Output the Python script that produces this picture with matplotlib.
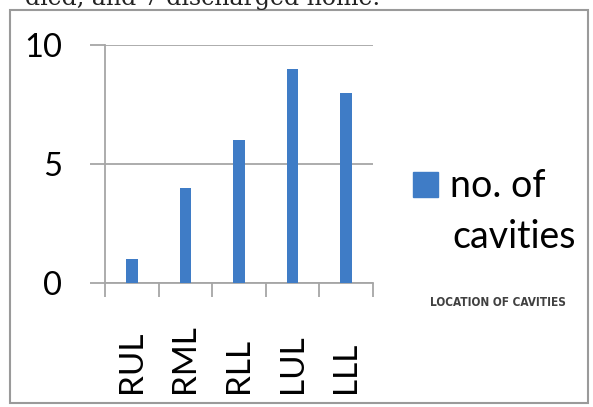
import matplotlib
matplotlib.use("Agg")
import matplotlib.pyplot as plt
from matplotlib.patches import Rectangle

# data
locations = ["RUL", "RML", "RLL", "LUL", "LLL"]
cavities = [1, 4, 6, 9, 8]
y_ticks = [0, 5, 10]
series_name = ["no. of", "cavities"]
axis_note = "LOCATION OF CAVITIES"
caption_tail = "died, and 7 discharged home."

W, H = 593, 407
fig = plt.figure(figsize=(W / 100, H / 100), dpi=100)
plt.rcParams["font.family"] = ["Lato", "DejaVu Sans"]
bar_color = "#3f7cc6"
grey = "#a6a6a6"

# plot area in pixel terms
x0, x1, ytop, ybot = 105, 373, 45, 283
ax = fig.add_axes([x0 / W, 1 - ybot / H, (x1 - x0) / W, (ybot - ytop) / H])

ax.bar(range(len(locations)), cavities, width=0.22, color=bar_color, zorder=3)

ax.set_xlim(-0.5, len(locations) - 0.5)
ax.set_ylim(0, 10)
ax.set_yticks(y_ticks)
ax.set_yticklabels([str(v) for v in y_ticks], fontsize=23.5)
ax.yaxis.grid(True, color=grey, linewidth=1.3)
ax.tick_params(axis="y", length=11, width=1.3, color=grey, pad=20)

# category labels sit at centres, tick marks at boundaries
ax.set_xticks(range(len(locations)))
ax.set_xticklabels(locations, rotation=90, fontsize=24, va="bottom")
ax.tick_params(axis="x", which="major", length=0, pad=79)
ax.set_xticks([i - 0.5 for i in range(len(locations) + 1)], minor=True)
ax.tick_params(axis="x", which="minor", length=10, width=1.3, color=grey)

for s in ["top", "right"]:
    ax.spines[s].set_visible(False)
for s in ["left", "bottom"]:
    ax.spines[s].set_color(grey)
    ax.spines[s].set_linewidth(1.3)

# legend drawn by hand: square next to first line, second line below
fig.patches.append(Rectangle((413 / W, 1 - 197 / H), 25 / W, 25 / H,
                             transform=fig.transFigure, color=bar_color))
fig.text(450 / W, 1 - 197 / H, series_name[0], fontsize=27, va="baseline")
fig.text(452 / W, 1 - 248 / H, series_name[1], fontsize=27, va="baseline")

fig.text(430 / W, 1 - 303 / H, axis_note, fontsize=8.5, color="#404040",
         fontweight="bold", fontstretch="condensed", family="DejaVu Sans",
         va="center")

# outer chart frame and the cut-off caption above it
fig.patches.append(Rectangle((10 / W, 1 - 403 / H), 578 / W, 393 / H,
                             transform=fig.transFigure, fill=False,
                             edgecolor="#9a9a9a", linewidth=1.5))
fig.text(25 / W, 1 - 5 / H, caption_tail, fontsize=17, family="DejaVu Serif",
         va="baseline", color="#222222")

fig.savefig("out.png", dpi=100)
